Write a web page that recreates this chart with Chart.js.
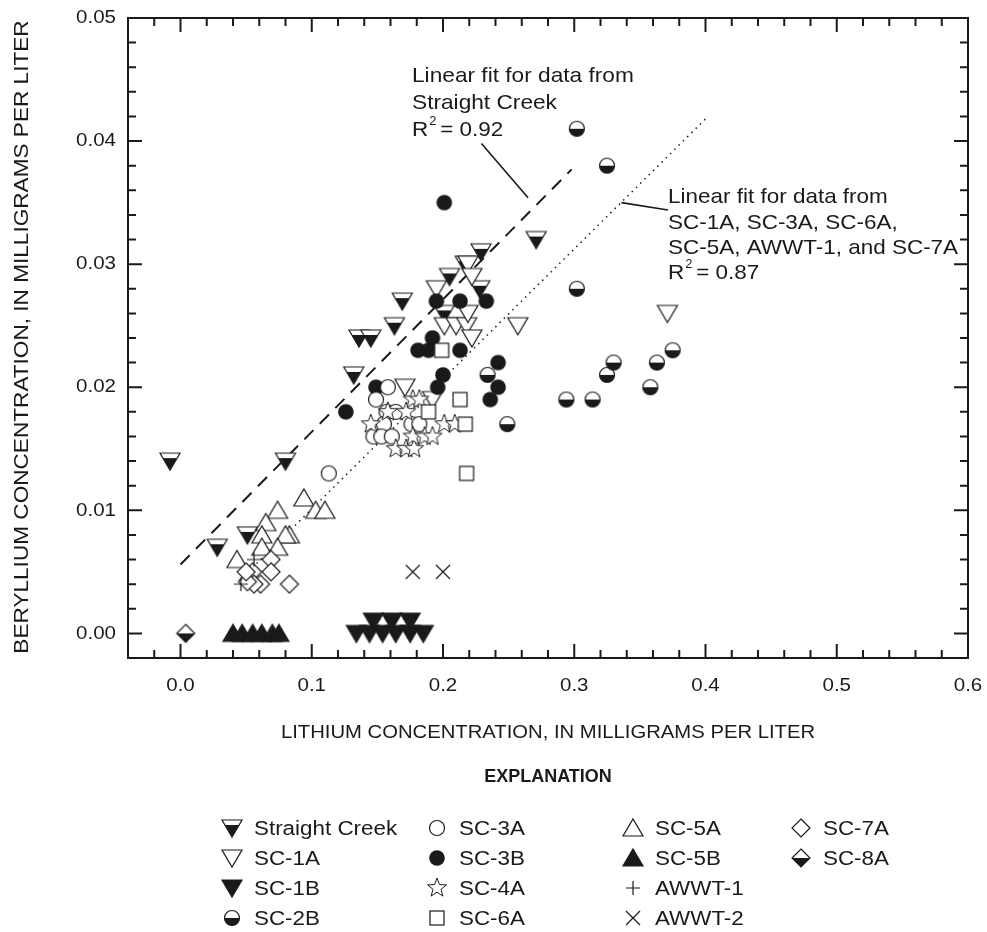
<!DOCTYPE html>
<html>
<head>
<meta charset="utf-8">
<script src="https://cdn.jsdelivr.net/npm/chart.js@4.4.1/dist/chart.umd.min.js"></script>
<style>
  html, body { margin: 0; padding: 0; background: #fff; }
  #wrap { width: 987px; height: 932px; }
</style>
</head>
<body>
<div id="wrap"><canvas id="liBeChart" width="987" height="932"></canvas></div>
<script>
// lithium (x) and beryllium (y) concentrations, mg/L
const straightCreekLi = [-0.008, 0.028, 0.051, 0.080, 0.132, 0.136, 0.145, 0.163, 0.169, 0.201, 0.205, 0.217, 0.228, 0.229, 0.271];
const straightCreekBe = [0.014, 0.007, 0.008, 0.014, 0.021, 0.024, 0.024, 0.025, 0.027, 0.026, 0.029, 0.030, 0.028, 0.031, 0.032];
const sc1aLi = [0.171, 0.192, 0.195, 0.201, 0.210, 0.218, 0.219, 0.219, 0.222, 0.222, 0.257, 0.371];
const sc1aBe = [0.020, 0.019, 0.028, 0.025, 0.025, 0.025, 0.030, 0.026, 0.029, 0.024, 0.025, 0.026];
const sc1bLi = [0.134, 0.144, 0.154, 0.164, 0.175, 0.185, 0.147, 0.161, 0.175];
const sc1bBe = [0, 0, 0, 0, 0, 0, 0.001, 0.001, 0.001];
const sc2bLi = [0.302, 0.325, 0.302, 0.234, 0.249, 0.294, 0.314, 0.325, 0.330, 0.358, 0.363, 0.375];
const sc2bBe = [0.041, 0.038, 0.028, 0.021, 0.017, 0.019, 0.019, 0.021, 0.022, 0.020, 0.022, 0.023];
const sc3aLi = [0.113, 0.149, 0.158, 0.157, 0.164, 0.155, 0.147, 0.153, 0.161, 0.176, 0.182];
const sc3aBe = [0.013, 0.019, 0.020, 0.018, 0.018, 0.017, 0.016, 0.016, 0.016, 0.017, 0.017];
const sc3bLi = [0.201, 0.195, 0.213, 0.233, 0.192, 0.181, 0.189, 0.213, 0.200, 0.196, 0.149, 0.126, 0.242, 0.242, 0.236];
const sc3bBe = [0.035, 0.027, 0.027, 0.027, 0.024, 0.023, 0.023, 0.023, 0.021, 0.020, 0.020, 0.018, 0.022, 0.020, 0.019];
const sc4aLi = [0.145, 0.158, 0.172, 0.177, 0.182, 0.164, 0.172, 0.178, 0.177, 0.186, 0.192, 0.201, 0.209];
const sc4aBe = [0.017, 0.018, 0.018, 0.019, 0.019, 0.015, 0.015, 0.015, 0.016, 0.016, 0.016, 0.017, 0.017];
const sc5aLi = [0.094, 0.103, 0.110, 0.074, 0.065, 0.062, 0.083, 0.080, 0.062, 0.074, 0.043];
const sc5aBe = [0.011, 0.010, 0.010, 0.010, 0.009, 0.008, 0.008, 0.008, 0.007, 0.007, 0.006];
const sc5bLi = [0.040, 0.047, 0.055, 0.062, 0.070, 0.075];
const sc5bBe = [0, 0, 0, 0, 0, 0];
const sc6aLi = [0.199, 0.189, 0.213, 0.217, 0.218];
const sc6aBe = [0.023, 0.018, 0.019, 0.017, 0.013];
const sc7aLi = [0.083, 0.069, 0.069, 0.061, 0.055, 0.056, 0.051, 0.050];
const sc7aBe = [0.004, 0.006, 0.005, 0.004, 0.005, 0.004, 0.0042, 0.005];
const sc8aLi = [0.004];
const sc8aBe = [0];
const awwt1Li = [0.056, 0.046];
const awwt1Be = [0.006, 0.004];
const awwt2Li = [0.177, 0.200];
const awwt2Be = [0.005, 0.005];

// fitted lines and the leader lines to their labels
const fitStraightLi = [0.0, 0.298];
const fitStraightBe = [0.0056, 0.0377];
const fitOtherLi = [0.045, 0.400];
const fitOtherBe = [0.0043, 0.0418];
const leaderStraightLi = [0.2293, 0.2648];
const leaderStraightBe = [0.0398, 0.0354];
const leaderOtherLi = [0.336, 0.3714];
const leaderOtherBe = [0.0350, 0.0344];

// axis ticks
const xMajorTicks = [0.0, 0.1, 0.2, 0.3, 0.4, 0.5, 0.6];
const yMajorTicks = [0.00, 0.01, 0.02, 0.03, 0.04, 0.05];
const xMinorStep = 0.02;
const yMinorStep = 0.002;

const FONT = '"Liberation Sans", Arial, sans-serif';

function pts(xs, ys) { return xs.map((x, i) => ({ x: x, y: ys[i] })); }

// text drawn a little wider than the font, like the printed figure
function wideText(ctx, str, x, y, size, stretch, align, weight) {
  ctx.save();
  ctx.font = (weight ? weight + ' ' : '') + size + 'px ' + FONT;
  ctx.textAlign = align || 'left';
  ctx.textBaseline = 'middle';
  ctx.translate(x, y);
  ctx.scale(stretch, 1);
  ctx.fillText(str, 0, 0);
  const w = ctx.measureText(str).width * stretch;
  ctx.restore();
  return w;
}

// marker images --------------------------------------------------------
function makeMarker(kind) {
  const c = document.createElement('canvas');
  const s = 24;
  c.width = s; c.height = s;
  const g = c.getContext('2d');
  g.translate(s / 2, s / 2);
  g.lineWidth = 1.2;
  g.strokeStyle = '#1a1a1a';
  g.fillStyle = '#1a1a1a';
  const downTri = () => { g.beginPath(); g.moveTo(-10, -8); g.lineTo(10, -8); g.lineTo(0, 9); g.closePath(); };
  const upTri = () => { g.beginPath(); g.moveTo(-10, 8); g.lineTo(10, 8); g.lineTo(0, -9); g.closePath(); };
  const diamond = () => { g.beginPath(); g.moveTo(0, -9); g.lineTo(9, 0); g.lineTo(0, 9); g.lineTo(-9, 0); g.closePath(); };
  switch (kind) {
    case 'downHalf':
      downTri(); g.fillStyle = '#fff'; g.fill();
      g.save(); downTri(); g.clip(); g.fillStyle = '#1a1a1a'; g.fillRect(-11, -3, 22, 13); g.restore();
      downTri(); g.stroke();
      break;
    case 'downOpen':
      downTri(); g.fillStyle = '#fff'; g.fill(); g.stroke();
      break;
    case 'downFill':
      downTri(); g.fill(); g.stroke();
      break;
    case 'circleHalf':
      g.beginPath(); g.arc(0, 0, 7.5, 0, Math.PI * 2); g.fillStyle = '#fff'; g.fill();
      g.beginPath(); g.arc(0, 0, 7.5, 0, Math.PI); g.closePath(); g.fillStyle = '#1a1a1a'; g.fill();
      g.beginPath(); g.arc(0, 0, 7.5, 0, Math.PI * 2); g.stroke();
      break;
    case 'circleOpen':
      g.beginPath(); g.arc(0, 0, 7.5, 0, Math.PI * 2); g.fillStyle = '#fff'; g.fill(); g.stroke();
      break;
    case 'circleFill':
      g.beginPath(); g.arc(0, 0, 7.8, 0, Math.PI * 2); g.fill();
      break;
    case 'star':
      g.beginPath();
      for (let i = 0; i < 10; i++) {
        const r = i % 2 === 0 ? 10 : 4.2;
        const a = -Math.PI / 2 + i * Math.PI / 5;
        if (i === 0) g.moveTo(r * Math.cos(a), r * Math.sin(a)); else g.lineTo(r * Math.cos(a), r * Math.sin(a));
      }
      g.closePath(); g.fillStyle = '#fff'; g.fill(); g.lineWidth = 1; g.stroke();
      break;
    case 'upOpen':
      upTri(); g.fillStyle = '#fff'; g.fill(); g.stroke();
      break;
    case 'upFill':
      upTri(); g.fill(); g.stroke();
      break;
    case 'square':
      g.fillStyle = '#fff'; g.fillRect(-7, -7, 14, 14); g.strokeRect(-7, -7, 14, 14);
      break;
    case 'diamondOpen':
      diamond(); g.fillStyle = '#fff'; g.fill(); g.stroke();
      break;
    case 'diamondHalf':
      diamond(); g.fillStyle = '#fff'; g.fill();
      g.save(); diamond(); g.clip(); g.fillStyle = '#1a1a1a'; g.fillRect(-10, 0, 20, 10); g.restore();
      diamond(); g.stroke();
      break;
    case 'plus':
      g.beginPath(); g.moveTo(-7, 0); g.lineTo(7, 0); g.moveTo(0, -7); g.lineTo(0, 7); g.stroke();
      break;
    case 'cross':
      g.beginPath(); g.moveTo(-7, -7); g.lineTo(7, 7); g.moveTo(7, -7); g.lineTo(-7, 7); g.stroke();
      break;
  }
  return c;
}

const markers = {};
['downHalf', 'downOpen', 'downFill', 'circleHalf', 'circleOpen', 'circleFill', 'star', 'upOpen', 'upFill',
 'square', 'diamondOpen', 'diamondHalf', 'plus', 'cross'].forEach(k => { markers[k] = makeMarker(k); });

function scatterSet(label, kind, xs, ys, order) {
  return {
    label: label,
    type: 'scatter',
    data: pts(xs, ys),
    pointStyle: markers[kind],
    pointRadius: 10,
    pointHoverRadius: 10,
    order: order
  };
}

function lineSet(label, xs, ys, dash, width) {
  return {
    label: label,
    type: 'line',
    data: pts(xs, ys),
    borderColor: '#1a1a1a',
    borderWidth: width,
    borderDash: dash,
    pointRadius: 0,
    fill: false,
    order: 100
  };
}

// frame, inward ticks, labels, annotations, legend ----------------------
const decorations = {
  id: 'decorations',
  afterDraw(chart) {
    const ctx = chart.ctx;
    const xs = chart.scales.x, ys = chart.scales.y;
    const a = chart.chartArea;
    ctx.save();
    ctx.strokeStyle = '#1a1a1a';
    ctx.fillStyle = '#1a1a1a';
    ctx.lineWidth = 2;
    ctx.strokeRect(a.left, a.top, a.right - a.left, a.bottom - a.top);

    const isMajor = (v, list) => list.some(m => Math.abs(m - v) < 1e-6);
    ctx.beginPath();
    const xStart = Math.ceil(xs.min / xMinorStep - 1e-6) * xMinorStep;
    for (let v = xStart; v <= xs.max + 1e-9; v += xMinorStep) {
      const p = xs.getPixelForValue(v);
      if (p < a.left + 1 || p > a.right - 1) continue;
      const len = isMajor(Math.round(v * 1000) / 1000, xMajorTicks) ? 14 : 8;
      ctx.moveTo(p, a.bottom); ctx.lineTo(p, a.bottom - len);
      ctx.moveTo(p, a.top); ctx.lineTo(p, a.top + len);
    }
    const yStart = Math.ceil(ys.min / yMinorStep - 1e-6) * yMinorStep;
    for (let v = yStart; v <= ys.max + 1e-9; v += yMinorStep) {
      const p = ys.getPixelForValue(v);
      if (p < a.top + 1 || p > a.bottom - 1) continue;
      const len = isMajor(Math.round(v * 10000) / 10000, yMajorTicks) ? 14 : 8;
      ctx.moveTo(a.left, p); ctx.lineTo(a.left + len, p);
      ctx.moveTo(a.right, p); ctx.lineTo(a.right - len, p);
    }
    ctx.stroke();

    // tick labels
    xMajorTicks.forEach(v => wideText(ctx, v.toFixed(1), xs.getPixelForValue(v), 686, 19, 1.08, 'center'));
    yMajorTicks.forEach(v => wideText(ctx, v.toFixed(2), 116, ys.getPixelForValue(v), 19, 1.08, 'right'));

    // axis titles
    wideText(ctx, 'LITHIUM CONCENTRATION, IN MILLIGRAMS PER LITER', 548, 733, 18, 1.125, 'center');
    ctx.save();
    ctx.translate(22, 337);
    ctx.rotate(-Math.PI / 2);
    wideText(ctx, 'BERYLLIUM CONCENTRATION, IN MILLIGRAMS PER LITER', 0, 0, 20, 1.13, 'center');
    ctx.restore();

    // fit annotations
    const rsq = (x, y, val) => {
      const w = wideText(ctx, 'R', x, y, 21, 1.07, 'left');
      wideText(ctx, '2', x + w + 1, y - 8, 12, 1.07, 'left');
      wideText(ctx, '= ' + val, x + w + 12, y, 21, 1.07, 'left');
    };
    wideText(ctx, 'Linear fit for data from', 412, 76, 21, 1.08);
    wideText(ctx, 'Straight Creek', 412, 103, 21, 1.08);
    rsq(412, 130, '0.92');
    wideText(ctx, 'Linear fit for data from', 668, 197, 21, 1.07);
    wideText(ctx, 'SC-1A, SC-3A, SC-6A,', 668, 223, 21, 1.07);
    wideText(ctx, 'SC-5A, AWWT-1, and SC-7A', 668, 248, 21, 1.07);
    rsq(668, 273, '0.87');

    // explanation
    wideText(ctx, 'EXPLANATION', 548, 777, 18, 1.0, 'center', 'bold');
    const cols = [232, 437, 633, 801];
    const rows = [828, 858, 888, 918];
    const entries = [
      ['downHalf', 'Straight Creek', 0, 0], ['downOpen', 'SC-1A', 0, 1], ['downFill', 'SC-1B', 0, 2], ['circleHalf', 'SC-2B', 0, 3],
      ['circleOpen', 'SC-3A', 1, 0], ['circleFill', 'SC-3B', 1, 1], ['star', 'SC-4A', 1, 2], ['square', 'SC-6A', 1, 3],
      ['upOpen', 'SC-5A', 2, 0], ['upFill', 'SC-5B', 2, 1], ['plus', 'AWWT-1', 2, 2], ['cross', 'AWWT-2', 2, 3],
      ['diamondOpen', 'SC-7A', 3, 0], ['diamondHalf', 'SC-8A', 3, 1]
    ];
    entries.forEach(e => {
      const m = markers[e[0]];
      const cx = cols[e[2]], cy = rows[e[3]];
      ctx.drawImage(m, cx - m.width / 2, cy - m.height / 2);
      wideText(ctx, e[1], cx + 22, cy + 1, 20, 1.12);
    });
    ctx.restore();
  }
};

new Chart(document.getElementById('liBeChart'), {
  type: 'scatter',
  data: {
    datasets: [
      lineSet('Straight Creek fit', fitStraightLi, fitStraightBe, [13, 9], 2),
      lineSet('Other fit', fitOtherLi, fitOtherBe, [1.5, 4.5], 1.5),
      lineSet('leader 1', leaderStraightLi, leaderStraightBe, [], 1.6),
      lineSet('leader 2', leaderOtherLi, leaderOtherBe, [], 1.6),
      scatterSet('SC-8A', 'diamondHalf', sc8aLi, sc8aBe, 1),
      scatterSet('SC-5B', 'upFill', sc5bLi, sc5bBe, 2),
      scatterSet('SC-1B', 'downFill', sc1bLi, sc1bBe, 3),
      scatterSet('AWWT-2', 'cross', awwt2Li, awwt2Be, 4),
      scatterSet('AWWT-1', 'plus', awwt1Li, awwt1Be, 5),
      scatterSet('SC-7A', 'diamondOpen', sc7aLi, sc7aBe, 6),
      scatterSet('SC-5A', 'upOpen', sc5aLi, sc5aBe, 7),
      scatterSet('SC-6A', 'square', sc6aLi, sc6aBe, 8),
      scatterSet('SC-4A', 'star', sc4aLi, sc4aBe, 9),
      scatterSet('SC-3A', 'circleOpen', sc3aLi, sc3aBe, 10),
      scatterSet('SC-3B', 'circleFill', sc3bLi, sc3bBe, 11),
      scatterSet('SC-2B', 'circleHalf', sc2bLi, sc2bBe, 12),
      scatterSet('SC-1A', 'downOpen', sc1aLi, sc1aBe, 13),
      scatterSet('Straight Creek', 'downHalf', straightCreekLi, straightCreekBe, 14)
    ]
  },
  options: {
    responsive: false,
    animation: false,
    events: [],
    layout: { padding: { left: 128, top: 18, right: 19, bottom: 274 } },
    plugins: { legend: { display: false }, tooltip: { enabled: false } },
    scales: {
      x: { type: 'linear', min: -0.04, max: 0.6, display: false },
      y: { type: 'linear', min: -0.002, max: 0.05, display: false }
    }
  },
  plugins: [decorations]
});
</script>
</body>
</html>
